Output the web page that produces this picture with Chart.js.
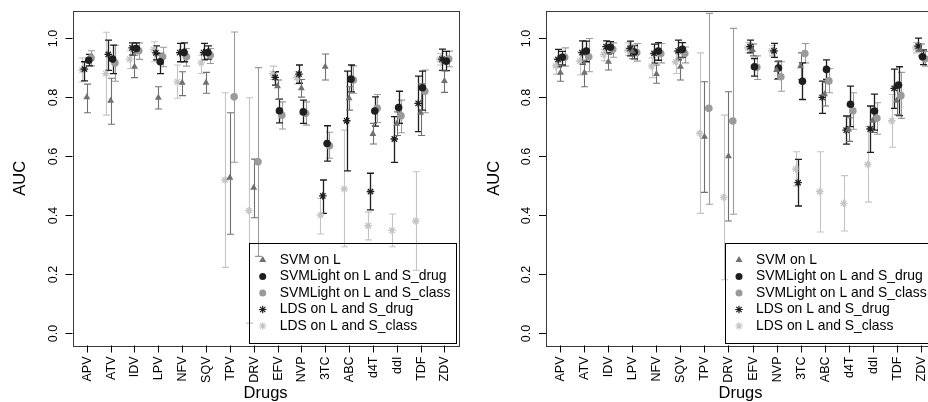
<!DOCTYPE html>
<html>
<head>
<meta charset="utf-8">
<script src="https://cdn.jsdelivr.net/npm/chart.js@4"></script>
<style>
html,body{margin:0;padding:0;background:#fff;overflow:hidden;width:928px;height:402px;}
canvas{position:absolute;top:0;}
#left{left:0;}
#right{left:464px;}
</style>
</head>
<body>
<canvas id="left" width="464" height="402"></canvas>
<canvas id="right" width="480" height="402"></canvas>
<script>
// categories and axis ticks
const drugs = ['APV','ATV','IDV','LPV','NFV','SQV','TPV','DRV','EFV','NVP','3TC','ABC','d4T','ddI','TDF','ZDV'];
const seriesNames = ['SVM on L','SVMLight on L and S_drug','SVMLight on L and S_class','LDS on L and S_drug','LDS on L and S_class'];
const yTicks = [0,0.2,0.4,0.6,0.8,1.0];
const yTickLabels = ['0.0','0.2','0.4','0.6','0.8','1.0'];

// left panel
const p1_svm    = [0.800,0.788,0.903,0.798,0.849,0.849,0.527,0.493,0.837,0.830,0.903,0.796,0.675,0.710,0.747,0.855];
const p1_svm_lo = [0.747,0.708,0.866,0.760,0.805,0.813,0.335,0.391,0.793,0.800,0.858,0.756,0.641,0.670,0.670,0.816];
const p1_svm_hi = [0.844,0.864,0.942,0.835,0.886,0.884,0.747,0.590,0.858,0.860,0.946,0.835,0.711,0.750,0.845,0.889];

const p1_sld    = [0.925,0.929,0.965,0.920,0.951,0.951,null,null,0.754,0.750,0.643,0.861,0.753,0.765,0.832,0.922];
const p1_sld_lo = [0.906,0.880,0.950,0.880,0.920,0.929,null,null,0.713,0.711,0.583,0.818,0.702,0.711,0.756,0.890];
const p1_sld_hi = [0.945,0.976,0.984,0.948,0.984,0.974,null,null,0.793,0.790,0.703,0.909,0.801,0.820,0.888,0.955];

const p1_slc    = [0.933,0.916,0.957,0.937,0.937,0.942,0.801,0.581,0.739,0.745,0.635,0.858,0.762,0.737,0.820,0.929];
const p1_slc_lo = [0.906,0.854,0.928,0.903,0.905,0.914,0.579,0.260,0.692,0.705,0.593,0.813,0.714,0.679,0.747,0.903];
const p1_slc_hi = [0.957,0.976,0.984,0.969,0.965,0.965,1.021,0.900,0.784,0.784,0.681,0.906,0.809,0.790,0.892,0.956];

const p1_ldd    = [0.895,0.945,0.967,0.950,0.951,0.951,null,null,0.867,0.878,0.465,0.720,0.480,0.658,0.779,0.929];
const p1_ldd_lo = [0.855,0.891,0.942,0.926,0.920,0.926,null,null,0.841,0.847,0.406,0.550,0.418,0.579,0.683,0.891];
const p1_ldd_hi = [0.920,0.993,0.984,0.974,0.982,0.982,null,null,0.886,0.909,0.519,0.888,0.542,0.734,0.871,0.963];

const p1_ldc    = [0.892,0.880,0.929,0.962,0.852,0.916,0.519,0.415,0.880,0.866,0.400,0.489,0.364,0.348,0.380,0.928];
const p1_ldc_lo = [0.852,0.739,0.897,0.920,0.796,0.880,0.223,0.034,0.860,0.845,0.336,0.293,0.316,0.293,0.213,0.909];
const p1_ldc_hi = [0.933,1.020,0.957,0.988,0.909,0.942,0.815,0.798,0.905,0.886,0.457,0.688,0.410,0.404,0.547,0.948];

// right panel
const p2_svm    = [0.883,0.883,0.920,0.955,0.878,0.903,0.666,0.600,0.960,0.892,0.905,0.810,0.690,0.720,0.788,0.960];
const p2_svm_lo = [0.854,0.835,0.892,0.930,0.847,0.858,0.477,0.380,0.940,0.860,0.860,0.770,0.650,0.680,0.740,0.940];
const p2_svm_hi = [0.909,0.925,0.945,0.975,0.909,0.933,0.852,0.818,0.980,0.920,0.950,0.850,0.730,0.760,0.840,0.980];

const p2_sld    = [0.935,0.956,0.969,0.953,0.956,0.962,null,null,0.903,0.899,0.854,0.894,0.776,0.753,0.841,0.937];
const p2_sld_lo = [0.909,0.920,0.950,0.930,0.925,0.935,null,null,0.871,0.863,0.792,0.860,0.700,0.688,0.737,0.910];
const p2_sld_hi = [0.955,0.990,0.988,0.975,0.985,0.985,null,null,0.931,0.922,0.916,0.926,0.837,0.810,0.903,0.960];

const p2_slc    = [0.935,0.937,0.962,0.951,0.948,0.948,0.762,0.719,0.901,0.869,0.948,0.855,0.754,0.728,0.805,0.930];
const p2_slc_lo = [0.905,0.886,0.935,0.922,0.916,0.916,0.437,0.403,0.860,0.820,0.916,0.815,0.691,0.674,0.728,0.905];
const p2_slc_hi = [0.967,0.999,0.984,0.982,0.982,0.970,1.084,1.033,0.940,0.920,0.982,0.897,0.815,0.781,0.884,0.955];

const p2_ldd    = [0.928,0.951,0.971,0.965,0.948,0.957,null,null,0.971,0.957,0.510,0.799,0.688,0.692,0.830,0.973];
const p2_ldd_lo = [0.903,0.912,0.950,0.940,0.915,0.926,null,null,0.950,0.935,0.431,0.745,0.641,0.613,0.762,0.957];
const p2_ldd_hi = [0.962,0.991,0.991,0.990,0.980,0.993,null,null,0.993,0.982,0.589,0.854,0.736,0.770,0.895,1.000];

const p2_ldc    = [0.906,0.922,0.945,0.959,0.905,0.920,0.677,0.460,0.967,0.957,0.556,0.480,0.440,0.572,0.720,0.967];
const p2_ldc_lo = [0.878,0.875,0.923,0.942,0.866,0.880,0.406,0.181,0.950,0.940,0.499,0.343,0.346,0.444,0.630,0.950];
const p2_ldc_hi = [0.931,0.954,0.962,0.984,0.933,0.954,0.950,0.739,0.985,0.975,0.615,0.615,0.534,0.700,0.809,0.985];

// look of each series (same order as seriesNames)
const seriesColors = ['#707070','#1e1e1e','#9a9a9a','#1e1e1e','#c4c4c4'];
const seriesShapes = ['triangle','circle','circle','star','star'];
const seriesOffsets = [0,0.08,0.18,-0.1,-0.2];

const font = "'Liberation Sans', Arial, Helvetica, sans-serif";

function drawMarker(ctx,shape,color,x,y){
    ctx.save();
    ctx.fillStyle=color;
    ctx.strokeStyle=color;
    ctx.lineWidth=1.2;
    ctx.beginPath();
    if(shape==='triangle'){
        ctx.moveTo(x,y-4);
        ctx.lineTo(x+3.5,y+2);
        ctx.lineTo(x-3.5,y+2);
        ctx.closePath();
        ctx.fill();
    } else if(shape==='circle'){
        ctx.arc(x,y,3.5,0,Math.PI*2);
        ctx.fill();
    } else {
        const r=3.8, d=r*0.707;
        ctx.moveTo(x-r,y);ctx.lineTo(x+r,y);
        ctx.moveTo(x,y-r);ctx.lineTo(x,y+r);
        ctx.moveTo(x-d,y-d);ctx.lineTo(x+d,y+d);
        ctx.moveTo(x-d,y+d);ctx.lineTo(x+d,y-d);
        ctx.stroke();
    }
    ctx.restore();
}

const errorBars = {
    id:'errorBars',
    beforeDatasetsDraw(chart){
        const ctx=chart.ctx;
        const xs=chart.scales.x, ys=chart.scales.y;
        const lows=chart.options.plugins.errorBars.lo;
        const highs=chart.options.plugins.errorBars.hi;
        ctx.save();
        for(let s=lows.length-1;s>=0;s--){
            ctx.strokeStyle=seriesColors[s];
            ctx.lineWidth=(s===1||s===3)?1.3:1.1;
            for(let j=0;j<drugs.length;j++){
                if(lows[s][j]===null) continue;
                const x=Math.round(xs.getPixelForValue(j+1+seriesOffsets[s]))+0.5;
                const y1=ys.getPixelForValue(lows[s][j]);
                const y2=ys.getPixelForValue(highs[s][j]);
                ctx.beginPath();
                ctx.moveTo(x,y1);ctx.lineTo(x,y2);
                ctx.moveTo(x-3.5,y1);ctx.lineTo(x+3.5,y1);
                ctx.moveTo(x-3.5,y2);ctx.lineTo(x+3.5,y2);
                ctx.stroke();
            }
        }
        ctx.restore();
    }
};

const rAxes = {
    id:'rAxes',
    afterDraw(chart){
        const ctx=chart.ctx;
        const a=chart.chartArea;
        const xs=chart.scales.x, ys=chart.scales.y;
        ctx.save();
        ctx.strokeStyle='#3a3a3a';
        ctx.lineWidth=1;
        ctx.strokeRect(Math.round(a.left)+0.5,Math.round(a.top)+0.5,Math.round(a.right-a.left),Math.round(a.bottom-a.top));

        ctx.strokeStyle='#000';
        ctx.fillStyle='#000';
        ctx.font='12.5px '+font;
        // y ticks
        yTicks.forEach((v,i)=>{
            const y=Math.round(ys.getPixelForValue(v))+0.5;
            ctx.beginPath();
            ctx.moveTo(a.left,y);ctx.lineTo(a.left-7,y);
            ctx.stroke();
            ctx.save();
            ctx.translate(a.left-19,y);
            ctx.rotate(-Math.PI/2);
            ctx.textAlign='center';
            ctx.textBaseline='middle';
            ctx.fillText(yTickLabels[i],0,0);
            ctx.restore();
        });
        // x ticks
        drugs.forEach((d,j)=>{
            const x=Math.round(xs.getPixelForValue(j+1))+0.5;
            ctx.beginPath();
            ctx.moveTo(x,a.bottom);ctx.lineTo(x,a.bottom+7);
            ctx.stroke();
            ctx.save();
            ctx.translate(x,a.bottom+11);
            ctx.rotate(-Math.PI/2);
            ctx.textAlign='right';
            ctx.textBaseline='middle';
            ctx.fillText(d,0,0);
            ctx.restore();
        });
        // axis titles
        ctx.font='16.5px '+font;
        ctx.save();
        ctx.translate(a.left-52,(a.top+a.bottom)/2);
        ctx.rotate(-Math.PI/2);
        ctx.textAlign='center';
        ctx.textBaseline='middle';
        ctx.fillText('AUC',0,0);
        ctx.restore();
        ctx.textAlign='center';
        ctx.textBaseline='alphabetic';
        ctx.fillText('Drugs',(a.left+a.right)/2,a.bottom+52.5);
        ctx.restore();
    }
};

const boxLegend = {
    id:'boxLegend',
    afterDraw(chart){
        const ctx=chart.ctx;
        const a=chart.chartArea;
        const w=207, h=100;
        const bx=a.right-3-w, by=a.bottom-2.5-h;
        ctx.save();
        ctx.strokeStyle='#000';
        ctx.lineWidth=1;
        ctx.strokeRect(Math.round(bx)+0.5,Math.round(by)+0.5,w,h);
        ctx.font='13.9px '+font;
        ctx.fillStyle='#000';
        ctx.textBaseline='middle';
        ctx.textAlign='left';
        seriesNames.forEach((name,i)=>{
            const y=by+17+i*16.5;
            drawMarker(ctx,seriesShapes[i],seriesColors[i],bx+14,y);
            ctx.fillStyle='#000';
            ctx.fillText(name,bx+31,y);
        });
        ctx.restore();
    }
};

function makePanel(id,padLeft,padRight,vals,lows,highs){
    const datasets=vals.map((v,s)=>({
        label:seriesNames[s],
        data:v.map((y,j)=>({x:j+1+seriesOffsets[s],y:y})).filter(p=>p.y!==null),
        pointStyle:seriesShapes[s],
        pointRadius:seriesShapes[s]==='triangle'?4:3.8,
        backgroundColor:seriesColors[s],
        borderColor:seriesColors[s],
        pointBorderWidth:seriesShapes[s]==='star'?1.3:0,
        showLine:false
    }));
    return new Chart(document.getElementById(id),{
        type:'scatter',
        data:{datasets:datasets},
        options:{
            responsive:false,
            animation:false,
            devicePixelRatio:1,
            layout:{padding:{left:padLeft,right:padRight,top:11,bottom:56.5}},
            scales:{
                x:{type:'linear',min:0.4,max:16.6,display:false},
                y:{type:'linear',min:-0.042,max:1.092,display:false}
            },
            plugins:{
                legend:{display:false},
                tooltip:{enabled:false},
                errorBars:{lo:lows,hi:highs}
            }
        },
        plugins:[errorBars,rAxes,boxLegend]
    });
}

makePanel('left',72.5,2,
    [p1_svm,p1_sld,p1_slc,p1_ldd,p1_ldc],
    [p1_svm_lo,p1_sld_lo,p1_slc_lo,p1_ldd_lo,p1_ldc_lo],
    [p1_svm_hi,p1_sld_hi,p1_slc_hi,p1_ldd_hi,p1_ldc_hi]);

makePanel('right',82,9,
    [p2_svm,p2_sld,p2_slc,p2_ldd,p2_ldc],
    [p2_svm_lo,p2_sld_lo,p2_slc_lo,p2_ldd_lo,p2_ldc_lo],
    [p2_svm_hi,p2_sld_hi,p2_slc_hi,p2_ldd_hi,p2_ldc_hi]);
</script>
</body>
</html>
